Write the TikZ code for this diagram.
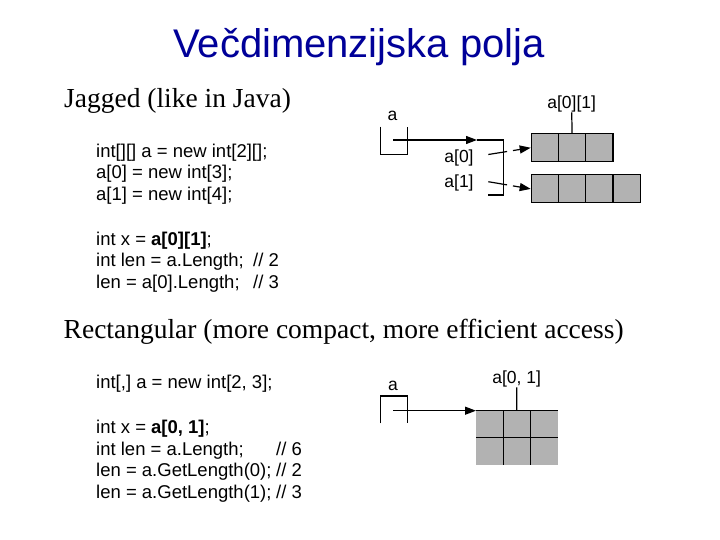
\documentclass[tikz,border=0pt]{standalone}
\usepackage{fontspec}
\setmainfont{Liberation Serif}
\newfontfamily\arialf{Liberation Sans}
\usetikzlibrary{arrows.meta}
\definecolor{titleblue}{RGB}{0,0,153}
\definecolor{cellgray}{RGB}{178,178,178}
\begin{document}
\begin{tikzpicture}[x=1pt,y=-1pt,
  titletext/.style={font=\arialf\fontsize{40}{48}\selectfont, text=titleblue, inner sep=0, anchor=base},
  heading/.style={font=\fontsize{27.5}{33}\selectfont, inner sep=0, anchor=base west},
  code/.style={font=\arialf\fontsize{18.5}{22}\selectfont, inner sep=0, anchor=base west},
  lbl/.style={font=\arialf\fontsize{17.5}{21}\selectfont, inner sep=0},
  cell/.style={draw, fill=cellgray, line width=1.2pt, minimum width=27.2pt, minimum height=27.7pt, inner sep=0, anchor=north west},
  wire/.style={line width=1.2pt},
  arrowhd/.style={-{Triangle[length=11pt,width=8pt]}},
]
\useasboundingbox[fill=white] (0,0) rectangle (720,540);

% title
\node[titletext] (title) at (359,57.5) {Večdimenzijska polja};

% headings
\node[heading] (h1) at (64,108) {Jagged (like in Java)};
\node[heading] (h2) at (63.5,338) {Rectangular (more compact, more efficient access)};

% jagged code
\node[code] (j1) at (96,157.5) {int[][] a = new int[2][];};
\node[code] (j2) at (96,179) {a[0] = new int[3];};
\node[code] (j3) at (96,200.5) {a[1] = new int[4];};
\node[code] (j4) at (96,245) {int x = \textbf{a[0][1]};};
\node[code] (j5) at (96,266.5) {int len = a.Length;};
\node[code] (j6) at (96,288) {len = a[0].Length;};
\node[code] (j5c) at (253,266.5) {// 2};
\node[code] (j6c) at (253,288) {// 3};

% rectangular code
\node[code] (k1) at (96,388) {int[,] a = new int[2, 3];};
\node[code] (k2) at (96,433) {int x = \textbf{a[0, 1]};};
\node[code] (k3) at (96,455) {int len = a.Length;};
\node[code] (k4) at (96,476.5) {len = a.GetLength(0);};
\node[code] (k5) at (96,498) {len = a.GetLength(1);};
\node[code] (k3c) at (276,455) {// 6};
\node[code] (k4c) at (276,476.5) {// 2};
\node[code] (k5c) at (276,498) {// 3};

% ---------- jagged diagram ----------
\node[lbl] (ja) at (392.5,116) {a};
\draw[wire] (380.7,126.7) -- (380.7,154.3) -- (407.3,154.3) -- (407.3,126.7);
\node[lbl] (ja0) at (459,158) {a[0]};
\node[lbl] (ja1) at (459,182.5) {a[1]};

\node[cell] (r1c1) at (530.7,133.3) {};
\node[cell] (r1c2) at (557.9,133.3) {};
\node[cell] (r1c3) at (585.1,133.3) {};
\node[cell, minimum height=28pt] (r2c1) at (530.7,174.3) {};
\node[cell, minimum height=28pt] (r2c2) at (557.9,174.3) {};
\node[cell, minimum height=28pt] (r2c3) at (585.1,174.3) {};
\node[cell, minimum height=28pt] (r2c4) at (612.3,174.3) {};

\node[lbl] (j01) at (571.7,104) {a[0][1]};
\draw[wire] (j01.south) -- (r1c2.north);

\coordinate (p0) at (393.3,140);
\coordinate (pm) at (477,140);
\coordinate (p1) at (503.3,140);
\coordinate (p2) at (503.3,195);
\coordinate (p3) at (488.3,195);
\draw[wire,arrowhd] (p0) -- (pm);
\draw[wire] (pm) -- (p1) -- (p2) -- (p3);

\coordinate (d0) at (488.3,154.5);
\coordinate (d1) at (488.3,181.7);
\draw[wire,arrowhd,dash pattern=on 19pt off 6pt] (d0) -- (r1c1.west);
\draw[wire,arrowhd,dash pattern=on 19pt off 6pt] (d1) -- (r2c1.west);

% ---------- rectangular diagram ----------
\node[lbl] (ra) at (393,385.5) {a};
\draw[wire] (380.7,423.3) -- (380.7,396) -- (407.3,396) -- (407.3,423.3);

\node[fill=cellgray, inner sep=0, minimum width=81.7pt, minimum height=54.3pt, anchor=north west] (grid) at (476,410.7) {};
\coordinate (gtl) at (476,410.7);
\coordinate (gtr) at (557.7,410.7);
\coordinate (gv1t) at (503.2,410.7);
\coordinate (gv1b) at (503.2,465);
\coordinate (gv2t) at (530.4,410.7);
\coordinate (gv2b) at (530.4,465);
\coordinate (ghl) at (476,437.8);
\coordinate (ghr) at (557.7,437.8);
\draw[wire] (gtl) -- (gtr);
\draw[wire] (gv1t) -- (gv1b);
\draw[wire] (gv2t) -- (gv2b);
\draw[wire] (ghl) -- (ghr);

\node[lbl] (r01) at (516.7,379) {a[0, 1]};
\draw[wire] (r01.south) -- (516.8,410.7);

\coordinate (q0) at (393.3,410.7);
\draw[wire,arrowhd] (q0) -- (gtl);
\end{tikzpicture}
\end{document}
